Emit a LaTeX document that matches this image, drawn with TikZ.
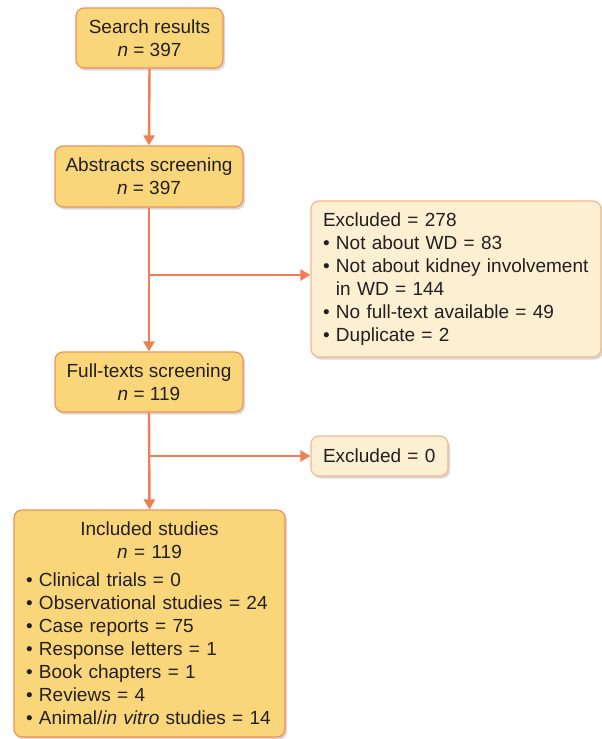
\documentclass[tikz,border=0pt]{standalone}
\usepackage{fontspec}
\setmainfont{Liberation Sans}
\usetikzlibrary{arrows.meta,shadows}
\definecolor{mainfill}{HTML}{FAD67B}
\definecolor{mainborder}{HTML}{F0905A}
\definecolor{exfill}{HTML}{FDEFD2}
\definecolor{exborder}{HTML}{F6B690}
\definecolor{arrowc}{HTML}{EF7F50}
\definecolor{txt}{HTML}{231F20}
\tikzset{
  x=1pt, y=-1pt,
  box/.style={rounded corners=8pt, line width=1.2pt, text=txt,
    font=\fontsize{19}{23}\selectfont, inner sep=0pt,
    drop shadow={shadow xshift=2pt, shadow yshift=-2.5pt, opacity=0.25, fill=black!60}},
  mainbox/.style={box, draw=mainborder, fill=mainfill, align=center},
  exbox/.style={box, draw=exborder, fill=exfill, align=left},
  conn/.style={draw=arrowc, line width=2.4pt},
  arr/.style={conn, -{Triangle[length=10pt,width=11pt]}}
}
\begin{document}
\begin{tikzpicture}
\useasboundingbox (0,0) rectangle (602,739);
\node[mainbox, minimum width=147pt, minimum height=60pt] (search) at (149.5,38)
  {Search results\\\textit{n} = 397};
\node[mainbox, minimum width=188pt, minimum height=61pt] (abs) at (149,176.5)
  {Abstracts screening\\\textit{n} = 397};
\node[mainbox, minimum width=188pt, minimum height=60pt] (full) at (149,382)
  {Full-texts screening\\\textit{n} = 119};
\node[exbox, minimum width=290pt, minimum height=156pt, text width=266pt] (ex1) at (456,279)
  {Excluded = 278\\
   • Not about WD = 83\\
   • Not about kidney involvement\\
   \phantom{• }in WD = 144\\
   • No full-text available = 49\\
   • Duplicate = 2};
\node[exbox, minimum width=137pt, minimum height=40pt, text width=113pt] (ex0) at (379.5,456)
  {Excluded = 0};
\node[mainbox, align=left, minimum width=271pt, minimum height=227pt, text width=247pt] (inc) at (149.5,623.5)
  {\makebox[\linewidth]{Included studies}\\
   \makebox[\linewidth]{\textit{n} = 119}\\[5pt]
   • Clinical trials = 0\\
   • Observational studies = 24\\
   • Case reports = 75\\
   • Response letters = 1\\
   • Book chapters = 1\\
   • Reviews = 4\\
   • Animal/\textit{in vitro} studies = 14};
\coordinate (b1) at (149,275);
\coordinate (b2) at (149,456);
\draw[arr] (search.south) -- (abs.north);
\draw[arr] (abs.south) -- (full.north);
\draw[arr] (b1) -- (b1 -| ex1.west);
\draw[arr] (full.south) -- (inc.north);
\draw[arr] (b2) -- (b2 -| ex0.west);
\end{tikzpicture}
\end{document}
